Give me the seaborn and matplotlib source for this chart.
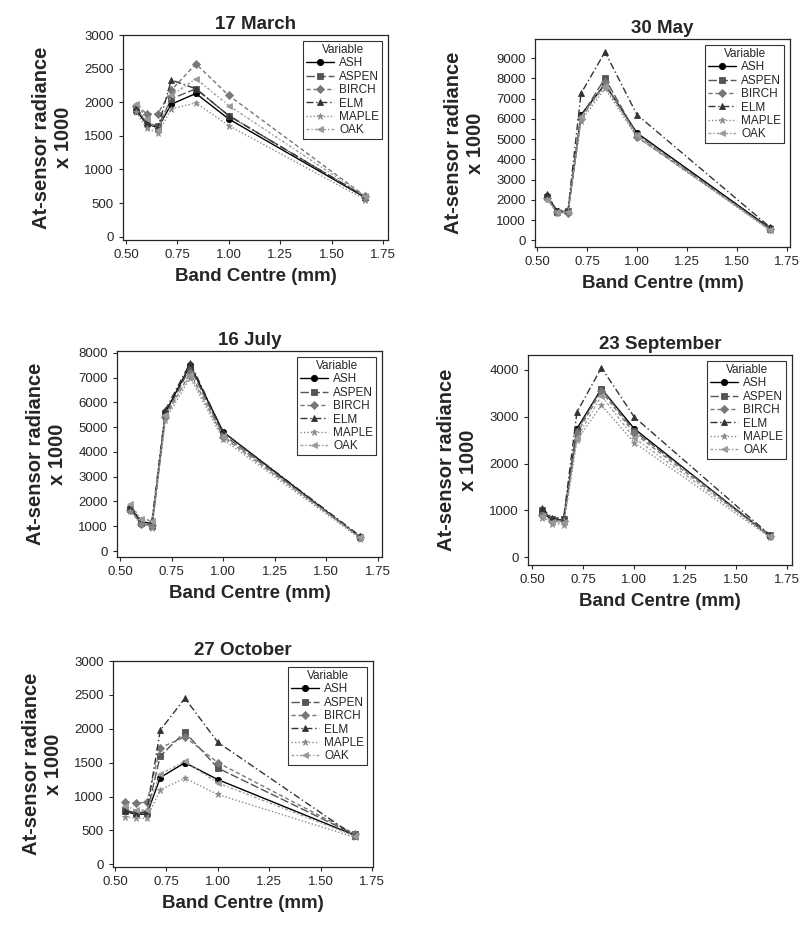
import numpy as np
import pandas as pd
import matplotlib
matplotlib.use("Agg")
import matplotlib.pyplot as plt
import seaborn as sns

# band centres shared by all dates
bands = [0.55, 0.60, 0.655, 0.72, 0.84, 1.00, 1.665]
species = ["ASH", "ASPEN", "BIRCH", "ELM", "MAPLE", "OAK"]

# at-sensor radiance x 1000
march = {
    "ASH":   [1870, 1680, 1620, 1970, 2130, 1750, 580],
    "ASPEN": [1900, 1700, 1640, 2050, 2200, 1800, 590],
    "BIRCH": [1950, 1830, 1830, 2180, 2570, 2100, 600],
    "ELM":   [1920, 1700, 1620, 2330, 2200, 1800, 590],
    "MAPLE": [1850, 1620, 1540, 1900, 1990, 1650, 550],
    "OAK":   [1980, 1750, 1580, 2100, 2350, 1950, 600],
}
may = {
    "ASH":   [2200, 1450, 1400, 6200, 7700, 5300, 600],
    "ASPEN": [2150, 1400, 1450, 6100, 8000, 5200, 550],
    "BIRCH": [2100, 1400, 1350, 6000, 7800, 5100, 550],
    "ELM":   [2300, 1450, 1500, 7250, 9300, 6200, 650],
    "MAPLE": [2050, 1350, 1400, 5900, 7500, 5100, 500],
    "OAK":   [2000, 1400, 1400, 6100, 7600, 5200, 500],
}
july = {
    "ASH":   [1750, 1200, 1100, 5600, 7500, 4800, 550],
    "ASPEN": [1700, 1150, 1000, 5500, 7400, 4700, 550],
    "BIRCH": [1650, 1100, 1050, 5400, 7200, 4600, 550],
    "ELM":   [1800, 1250, 1250, 5700, 7600, 4800, 600],
    "MAPLE": [1600, 1100, 950, 5300, 7000, 4500, 500],
    "OAK":   [1900, 1300, 1200, 5500, 7100, 4650, 550],
}
september = {
    "ASH":   [950, 800, 800, 2750, 3600, 2750, 450],
    "ASPEN": [1000, 820, 820, 2700, 3600, 2700, 480],
    "BIRCH": [900, 780, 780, 2650, 3550, 2650, 450],
    "ELM":   [1050, 830, 850, 3100, 4050, 3000, 480],
    "MAPLE": [850, 720, 700, 2500, 3250, 2450, 430],
    "OAK":   [880, 750, 750, 2550, 3450, 2550, 460],
}
october = {
    "ASH":   [780, 740, 740, 1280, 1500, 1250, 430],
    "ASPEN": [800, 760, 760, 1600, 1950, 1420, 440],
    "BIRCH": [920, 900, 920, 1720, 1880, 1500, 450],
    "ELM":   [780, 750, 780, 1980, 2450, 1800, 420],
    "MAPLE": [700, 680, 680, 1100, 1270, 1030, 400],
    "OAK":   [860, 800, 800, 1330, 1520, 1200, 420],
}

dates = ["17 March", "30 May", "16 July", "23 September", "27 October"]
panel_data = [march, may, july, september, october]
y_ticks = [np.arange(0, 3001, 500), np.arange(0, 9001, 1000),
           np.arange(0, 8001, 1000), np.arange(0, 4001, 1000),
           np.arange(0, 3001, 500)]
y_lims = [(-50, 3000), (-330, 9940), (-240, 8070), (-164, 4320), (-40, 3000)]
x_lims = [(0.485, 1.775), (0.49, 1.765), (0.485, 1.77), (0.48, 1.774), (0.49, 1.755)]
x_ticks = [0.50, 0.75, 1.00, 1.25, 1.50, 1.75]

# axes boxes in pixels: left, top, right, bottom
boxes = [(123, 35, 388, 240), (535, 39, 790, 247), (117, 351, 382, 557),
         (528, 355, 792, 565), (113, 661, 373, 867)]

sns.set_style("ticks")
plt.rcParams["font.family"] = ["Liberation Sans", "DejaVu Sans"]

palette = {"ASH": "#000000", "ASPEN": "#555555", "BIRCH": "#777777",
           "ELM": "#333333", "MAPLE": "#8a8a8a", "OAK": "#9a9a9a"}
markers = {"ASH": "o", "ASPEN": "s", "BIRCH": "D", "ELM": "^",
           "MAPLE": "*", "OAK": "<"}
dashes = {"ASH": "", "ASPEN": (6, 2), "BIRCH": (3, 2), "ELM": (5, 2, 1, 2),
          "MAPLE": (1, 1.5), "OAK": (2, 1.5, 1, 1.5)}

W, H = 809, 925
fig = plt.figure(figsize=(W / 100, H / 100), dpi=100)

for i, (title, data) in enumerate(zip(dates, panel_data)):
    l, t, r, b = boxes[i]
    ax = fig.add_axes([l / W, 1 - b / H, (r - l) / W, (b - t) / H])
    df = pd.DataFrame([
        {"band": bands[k], "radiance": data[sp][k], "Variable": sp}
        for sp in species for k in range(len(bands))
    ])
    sns.lineplot(data=df, x="band", y="radiance", hue="Variable", style="Variable",
                 hue_order=species, style_order=species, palette=palette,
                 markers=markers, dashes=dashes, markersize=4.5, linewidth=1.0,
                 markeredgewidth=0.6, ax=ax)
    # outline markers in the line colour instead of white
    for ln in ax.lines:
        ln.set_markeredgecolor(ln.get_color())
    ax.set_xlim(*x_lims[i])
    ax.set_ylim(*y_lims[i])
    ax.set_xticks(x_ticks)
    ax.set_xticklabels([f"{v:.2f}" for v in x_ticks])
    ax.set_yticks(y_ticks[i])
    ax.tick_params(labelsize=9.5, length=3, width=0.8, direction="out")
    for s in ax.spines.values():
        s.set_linewidth(0.9)
    ax.set_title(title, fontsize=13.5, fontweight="bold", pad=4)
    ax.set_xlabel("Band Centre (mm)", fontsize=13.5, fontweight="bold", labelpad=5)
    ax.set_ylabel("At-sensor radiance\nx 1000", fontsize=14.5, fontweight="bold",
                  labelpad=8, linespacing=1.2)
    sns.move_legend(ax, "upper right", title="Variable", fontsize=8.5,
                    title_fontsize=8.5, frameon=True, fancybox=False,
                    edgecolor="black", labelspacing=0.12, borderpad=0.25,
                    handlelength=2.4, handletextpad=0.4, borderaxespad=0.5)
    leg = ax.get_legend()
    leg.get_frame().set_linewidth(0.8)
    for h in leg.legend_handles:
        if hasattr(h, "set_markeredgecolor"):
            h.set_markeredgecolor(h.get_color())

fig.savefig("out.png", dpi=100)
